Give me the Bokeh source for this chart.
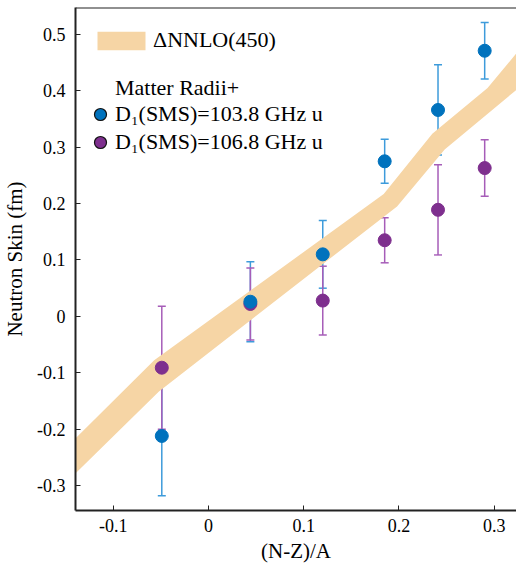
from bokeh.plotting import figure
from bokeh.models import (Range1d, FixedTicker, Whisker, TeeHead, ColumnDataSource,
                          Legend, LegendItem, Span)
from bokeh.embed import file_html
from bokeh.resources import INLINE

# ---- data ----
nz_over_a = [-0.049, 0.044, 0.120, 0.185, 0.241, 0.290]
skin_1038 = [-0.212, 0.026, 0.110, 0.275, 0.366, 0.471]
err_1038 = [0.106, 0.071, 0.060, 0.039, 0.080, 0.050]
skin_1068 = [-0.091, 0.022, 0.028, 0.135, 0.189, 0.263]
err_1068 = [0.109, 0.064, 0.061, 0.040, 0.080, 0.050]

band_upper_x = [-0.140, -0.057, 0.184, 0.235, 0.293, 0.330]
band_upper_y = [-0.217, -0.078, 0.217, 0.324, 0.405, 0.480]
band_lower_x = [-0.140, -0.052, 0.198, 0.248, 0.330]
band_lower_y = [-0.279, -0.133, 0.195, 0.296, 0.411]

x_ticks = [-0.1, 0.0, 0.1, 0.2, 0.3]
x_tick_labels = ["-0.1", "0", "0.1", "0.2", "0.3"]
y_ticks = [-0.3, -0.2, -0.1, 0.0, 0.1, 0.2, 0.3, 0.4, 0.5]
y_tick_labels = ["-0.3", "-0.2", "-0.1", "0", "0.1", "0.2", "0.3", "0.4", "0.5"]

label_band = "\u0394NNLO(450)"
label_group = "Matter Radii+"
label_1038 = "D\u2081(SMS)=103.8 GHz u"
label_1068 = "D\u2081(SMS)=106.8 GHz u"
x_title = "(N-Z)/A"
y_title = "Neutron Skin (fm)"

# ---- styles ----
FONT = "Liberation Serif"
BAND = "#F6D5A5"
BLUE = "#0072BD"
BLUE_ERR = "#3D9BDB"
PURPLE = "#7E2F8E"
PURPLE_ERR = "#A65DB8"
AXIS = "#222222"

X0, X1 = -0.1396, 0.3234
Y0, Y1 = -0.3442, 0.5477

p = figure(frame_width=441, frame_height=503, output_backend="svg", toolbar_location=None,
           x_range=Range1d(X0, X1), y_range=Range1d(Y0, Y1),
           min_border_left=75, min_border_right=0, min_border_top=7, min_border_bottom=40)
p.background_fill_color = "white"
p.border_fill_color = "white"
p.outline_line_color = None
p.grid.visible = False

# band
band_x = band_upper_x + band_lower_x[::-1]
band_y = band_upper_y + band_lower_y[::-1]
band = p.patch(band_x, band_y, fill_color=BAND, line_color=None)

# error bars
src_b = ColumnDataSource(dict(x=nz_over_a, y=skin_1038,
                              lo=[v - e for v, e in zip(skin_1038, err_1038)],
                              hi=[v + e for v, e in zip(skin_1038, err_1038)]))
src_p = ColumnDataSource(dict(x=nz_over_a, y=skin_1068,
                              lo=[v - e for v, e in zip(skin_1068, err_1068)],
                              hi=[v + e for v, e in zip(skin_1068, err_1068)]))
for src, col in ((src_b, BLUE_ERR), (src_p, PURPLE_ERR)):
    w = Whisker(base="x", lower="lo", upper="hi", source=src, dimension="height",
                line_color=col, line_width=1.5,
                upper_head=TeeHead(size=8, line_color=col, line_width=1.5),
                lower_head=TeeHead(size=8, line_color=col, line_width=1.5))
    p.add_layout(w)

p.scatter("x", "y", source=src_p, size=13, fill_color=PURPLE, line_color=PURPLE)
p.scatter("x", "y", source=src_b, size=13, fill_color=BLUE, line_color=BLUE)

# legend proxies (hidden renderers)
r_grp = p.scatter("x", "y", source=src_b, size=1, fill_alpha=0, line_alpha=0, visible=False)
r_b = p.scatter("x", "y", source=src_b, fill_color=BLUE, line_color="#111111",
                line_width=1.2, visible=False)
r_p = p.scatter("x", "y", source=src_p, fill_color=PURPLE, line_color="#111111",
                line_width=1.2, visible=False)


def make_legend(label, renderer, loc, gw, gh, standoff):
    return Legend(items=[LegendItem(label=label, renderers=[renderer])],
                  location=loc, glyph_width=gw, glyph_height=gh, label_height=gh,
                  label_standoff=standoff, padding=0, margin=0, spacing=0,
                  border_line_color=None, background_fill_alpha=0,
                  label_text_font=FONT, label_text_font_size="22px",
                  label_text_color="black")


p.add_layout(make_legend(label_band, band, (16, 457), 60, 23, 2))
p.add_layout(make_legend(label_group, r_grp, (10, 406), 30, 32, 0))
p.add_layout(make_legend(label_1038, r_b, (10, 380), 30, 32, 0))
p.add_layout(make_legend(label_1068, r_p, (10, 352), 30, 32, 0))

# top frame line
p.add_layout(Span(location=Y1, dimension="width", line_color=AXIS, line_width=2))

# axes
for ax in (p.xaxis[0], p.yaxis[0]):
    ax.axis_line_color = AXIS
    ax.axis_line_width = 2
    ax.major_tick_line_color = AXIS
    ax.major_tick_line_width = 1
    ax.major_tick_in = 5
    ax.major_tick_out = 0
    ax.minor_tick_line_color = None
    ax.major_label_text_font = FONT
    ax.major_label_text_font_size = "18px"
    ax.major_label_text_color = "black"
    ax.axis_label_text_font = FONT
    ax.axis_label_text_font_size = "21px"
    ax.axis_label_text_font_style = "normal"
    ax.axis_label_text_color = "black"

p.xaxis.ticker = FixedTicker(ticks=x_ticks)
p.xaxis.major_label_overrides = dict(zip(x_ticks, x_tick_labels))
p.xaxis.axis_label = x_title
p.xaxis.major_label_standoff = 8
p.xaxis.axis_label_standoff = 4

p.yaxis.ticker = FixedTicker(ticks=y_ticks)
p.yaxis.major_label_overrides = dict(zip(y_ticks, y_tick_labels))
p.yaxis.axis_label = y_title
p.yaxis.major_label_standoff = 10
p.yaxis.axis_label_standoff = 7

open("out.html", "w").write(file_html(p, INLINE))
